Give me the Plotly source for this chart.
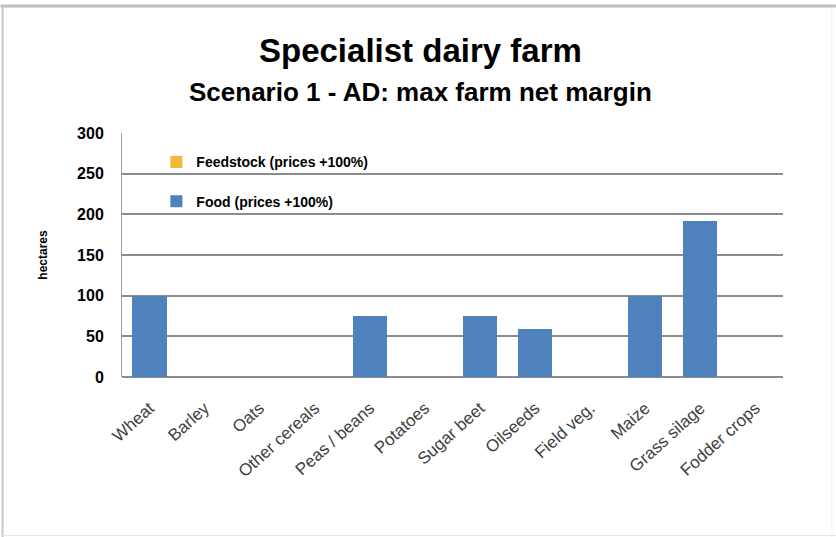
import plotly.graph_objects as go

# Crop areas (hectares) for the specialist dairy farm, scenario 1
crops = ["Wheat", "Barley", "Oats", "Other cereals", "Peas / beans", "Potatoes",
         "Sugar beet", "Oilseeds", "Field veg.", "Maize", "Grass silage", "Fodder crops"]
food = [100, 0, 0, 0, 75, 0, 75, 59, 0, 100, 192, 0]
feedstock = [0, 0, 0, 0, 0, 0, 0, 0, 0, 0, 0, 0]
y_ticks = [0, 50, 100, 150, 200, 250, 300]

FONT = "Liberation Sans Narrow, Arial Narrow, Liberation Sans, sans-serif"

fig = go.Figure()
fig.add_trace(go.Bar(x=crops, y=food, name="Food (prices +100%)",
                     marker=dict(color="#4F81BD", line=dict(width=0)),
                     legendgroup="food", legendrank=2))
fig.add_trace(go.Bar(x=crops, y=feedstock, name="Feedstock (prices +100%)",
                     marker=dict(color="#F2B83A", line=dict(width=0)),
                     legendgroup="feed", legendrank=1))

L, R, T, B = 121.5, 53, 133, 160
W, H = 836, 537

fig.update_layout(
    width=W, height=H,
    margin=dict(l=L, r=R, t=T, b=B),
    paper_bgcolor="white", plot_bgcolor="white",
    barmode="stack", bargap=0.38,
    font=dict(family=FONT, color="#000000"),
    showlegend=True,
    legend=dict(x=0.052, y=0.945, xanchor="left", yanchor="top",
                traceorder="grouped", tracegroupgap=18,
                bgcolor="rgba(0,0,0,0)",
                font=dict(family=FONT, size=14, color="#000000", weight="bold")),
    xaxis=dict(tickangle=-42, showgrid=False, showline=False, ticks="",
               ticklabelstandoff=17,
               tickfont=dict(family="Liberation Sans, Arial, sans-serif", size=17, color="#404040")),
    yaxis=dict(range=[0, 300], tickvals=y_ticks, showgrid=True, gridcolor="#8C8C8C",
               gridwidth=1.5, showline=True, linecolor="#A0A0A0", linewidth=1,
               zeroline=True, zerolinecolor="#8C8C8C", zerolinewidth=1.5,
               ticks="", ticklabelstandoff=14,
               tickfont=dict(family=FONT, size=16, color="#000000", weight="bold"),
               title=dict(text="hectares", standoff=26,
                          font=dict(family=FONT, size=12, color="#000000", weight="bold"))),
)

def px_x(p):
    return (p - L) / (W - L - R)

def px_y(p):
    return (H - B - p) / (H - T - B)

fig.add_annotation(text="<b>Specialist dairy farm</b>", x=px_x(420), y=px_y(50),
                   xref="paper", yref="paper", showarrow=False,
                   xanchor="center", yanchor="middle",
                   font=dict(family=FONT, size=33, color="#000000"))
fig.add_annotation(text="<b>Scenario 1 - AD: max farm net margin</b>", x=px_x(420), y=px_y(92),
                   xref="paper", yref="paper", showarrow=False,
                   xanchor="center", yanchor="middle",
                   font=dict(family=FONT, size=26, color="#000000"))

# chart frame
fig.add_shape(type="line", xref="paper", yref="paper", x0=px_x(0), x1=px_x(836),
              y0=px_y(6), y1=px_y(6), line=dict(color="#BEBEBE", width=3))
fig.add_shape(type="line", xref="paper", yref="paper", x0=px_x(2), x1=px_x(2),
              y0=px_y(7), y1=px_y(537), line=dict(color="#C8C8C8", width=2))
fig.add_shape(type="line", xref="paper", yref="paper", x0=px_x(0), x1=px_x(836),
              y0=px_y(535.5), y1=px_y(535.5), line=dict(color="#E4E4E4", width=1))
fig.add_shape(type="line", xref="paper", yref="paper", x0=px_x(832), x1=px_x(832),
              y0=px_y(7), y1=px_y(537), line=dict(color="#F0F0F0", width=1))

fig.write_html("out.html")
